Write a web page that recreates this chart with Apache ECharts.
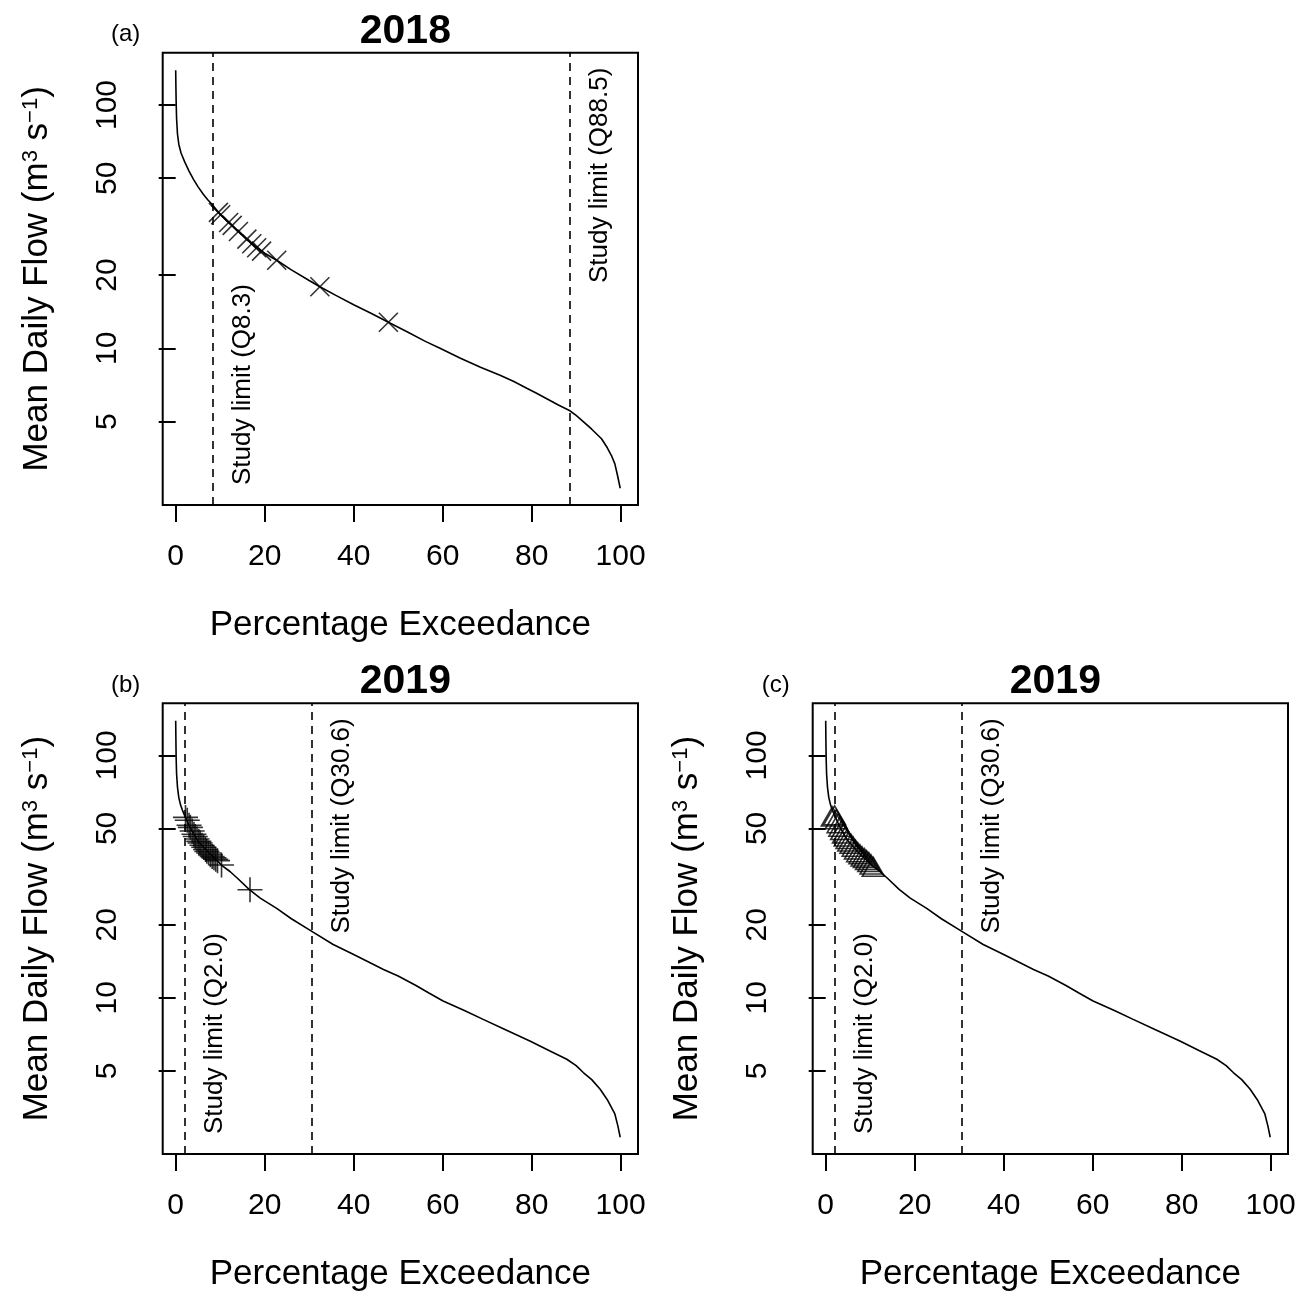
<!DOCTYPE html>
<html>
<head>
<meta charset="utf-8">
<script src="https://cdn.jsdelivr.net/npm/echarts@6/dist/echarts.min.js"></script>
<style>
html, body { margin: 0; padding: 0; background: #fff; }
#main { width: 1309px; height: 1293px; }
</style>
</head>
<body>
<div id="main"></div>
<script>
// flow duration curves: [percentage exceedance, mean daily flow (m3/s)]
var fdc2018 = [
    [0, 139], [0.05, 118], [0.1, 104], [0.2, 88], [0.4, 76], [0.7, 69], [1.2, 63.5], [2, 58.5],
    [3, 53.5], [4, 49.5], [5, 46.2], [6.2, 43], [7.2, 40.8], [8.3, 38.8], [10, 35.5], [12, 32.8],
    [14, 30.3], [17, 27], [20, 24.6], [22.7, 23], [26, 21], [30, 19], [32.4, 17.9], [36, 16.5],
    [40, 15.1], [44, 13.9], [47.8, 12.8], [52, 11.7], [56, 10.7], [59.4, 10], [64, 9.1], [68.5, 8.35],
    [72.9, 7.75], [76, 7.3], [78.9, 6.85], [81, 6.55], [83.4, 6.2], [86, 5.85], [88.5, 5.55], [90, 5.3],
    [91.6, 5.0], [93.5, 4.65], [95.7, 4.25], [97, 3.9], [98, 3.6], [98.7, 3.35], [99.3, 3.0], [99.9, 2.66]
];
var fdc2019 = [
    [0, 139], [0.05, 115], [0.1, 98], [0.2, 84], [0.4, 74], [0.7, 67], [1.1, 62.4], [1.5, 59.5],
    [2, 56.6], [3, 51.5], [4, 47.6], [5, 44.5], [6.2, 42], [7.5, 39.5], [9.2, 37], [10.5, 35],
    [12.2, 33.2], [14, 31], [16.5, 28], [19, 25.8], [22.7, 23.4], [26, 21.2], [30.6, 18.8], [35.4, 16.6],
    [40, 15.1], [46.7, 13.1], [50, 12.3], [54, 11.25], [57, 10.45], [60.1, 9.7], [65, 8.85], [69.1, 8.15],
    [74, 7.4], [79.6, 6.64], [84, 6.05], [87.9, 5.58], [90, 5.25], [91.6, 4.92], [93.5, 4.6], [95.4, 4.2],
    [97, 3.8], [98.7, 3.32], [99.4, 2.95], [99.9, 2.66]
];

// sampled days
var samples2018 = [
    [9.6, 36.2], [10.1, 35.4], [11.9, 32.9], [12.7, 32.0], [14.1, 30.2], [16.0, 28.1],
    [17.1, 26.9], [18.2, 25.9], [19.3, 25.1], [22.7, 23.0], [32.4, 17.9], [47.8, 12.8]
];
var samples2019b = [
    [2.2, 55.5], [2.6, 54], [3.0, 51.5], [3.3, 50.5], [3.7, 48.8], [4.1, 47.3], [4.4, 46.3],
    [4.8, 45.2], [5.2, 44.2], [5.5, 43.5], [5.9, 42.6], [6.3, 41.8], [6.7, 40.9], [7.0, 40.2],
    [7.4, 39.6], [7.8, 38.9], [8.2, 38.3], [8.6, 37.8], [9.0, 37.3], [9.4, 36.8], [10.3, 35.3], [16.7, 27.9]
];
var samples2019c = [
    [1.5, 56], [2.0, 56.6], [2.4, 54.5], [2.8, 52.5], [3.2, 50.8], [3.6, 49.2], [4.0, 47.6],
    [4.4, 46.3], [4.8, 45.2], [5.2, 44.2], [5.7, 43.2], [6.2, 42], [6.7, 40.9], [7.2, 39.9],
    [7.7, 39.1], [8.2, 38.3], [8.7, 37.7], [9.2, 37], [9.7, 36.3], [10.2, 35.5], [10.7, 34.7]
];

var studyLimits2018 = [8.3, 88.5];
var studyLimits2019 = [2.0, 30.6];
var xTicks = [0, 20, 40, 60, 80, 100];
var yTicks = [5, 10, 20, 50, 100];
var panelTitles = ['2018', '2019', '2019'];
var panelTags = ['(a)', '(b)', '(c)'];

var FONT = 'Liberation Sans, Arial, Helvetica, sans-serif';
var yLogTicks = yTicks.map(function (v) { return Math.log10(v); });

function toLog(points) {
    return points.map(function (p) { return [p[0], Math.log10(p[1])]; });
}

var panels = [
    { left: 162.7, top: 52.7, curve: fdc2018, samples: samples2018, limits: studyLimits2018, symbol: 'path://M0,0L10,10M10,0L0,10', size: 19 },
    { left: 162.7, top: 703.3, curve: fdc2019, samples: samples2019b, limits: studyLimits2019, symbol: 'path://M5,0L5,10M0,5L10,5', size: 25 },
    { left: 812.7, top: 703.3, curve: fdc2019, samples: samples2019c, limits: studyLimits2019, symbol: 'triangle', size: [22, 19] }
];
var plotW = 475.3;
var plotH = 452.3;

var grids = [], xAxes = [], yAxes = [], series = [], titles = [];

function limitLabel(value, position, distance) {
    return {
        show: true, position: position, distance: distance,
        formatter: 'Study limit (Q' + value.toFixed(1) + ')',
        fontSize: 26, color: '#000', fontFamily: FONT
    };
}

panels.forEach(function (p, i) {
    grids.push({
        left: p.left, top: p.top, width: plotW, height: plotH,
        show: true, borderColor: '#000', borderWidth: 2, backgroundColor: '#fff'
    });
    xAxes.push({
        gridIndex: i, type: 'value', min: -2.92, max: 103.9,
        axisLine: { show: false },
        splitLine: { show: false },
        axisTick: { show: true, length: 17, customValues: xTicks, lineStyle: { color: '#000', width: 2 } },
        axisLabel: { customValues: xTicks, margin: 37, fontSize: 30, color: '#000', fontFamily: FONT },
        name: 'Percentage Exceedance', nameLocation: 'middle', nameGap: 103,
        nameTextStyle: { fontSize: 35, color: '#000', fontFamily: FONT }
    });
    yAxes.push({
        gridIndex: i, type: 'value', min: 0.3559, max: 2.215,
        axisLine: { show: false },
        splitLine: { show: false },
        axisTick: { show: true, length: 17, customValues: yLogTicks, lineStyle: { color: '#000', width: 2 } },
        axisLabel: {
            customValues: yLogTicks, rotate: 90, margin: 40, fontSize: 30, color: '#000', fontFamily: FONT,
            formatter: function (v) { return String(Math.round(Math.pow(10, v))); }
        },
        name: 'Mean Daily Flow (m{sup|3} s{sup|\u22121})', nameLocation: 'middle', nameGap: 108,
        nameTextStyle: {
            fontSize: 35, color: '#000', fontFamily: FONT,
            rich: { sup: { fontSize: 22, verticalAlign: 'top', color: '#000', fontFamily: FONT } }
        }
    });

    series.push({
        type: 'line', xAxisIndex: i, yAxisIndex: i,
        data: toLog(p.curve),
        showSymbol: false, silent: true,
        lineStyle: { color: '#000', width: 1.6 },
        markLine: {
            silent: true, symbol: 'none',
            lineStyle: { color: '#000', width: 1.6, type: [8, 6] },
            data: [
                { xAxis: p.limits[0], label: limitLabel(p.limits[0], 'insideStartBottom', [20, 17]) },
                { xAxis: p.limits[1], label: limitLabel(p.limits[1], 'insideEndBottom', [15, 17]) }
            ]
        }
    });
    series.push({
        type: 'scatter', xAxisIndex: i, yAxisIndex: i,
        data: toLog(p.samples),
        symbol: p.symbol, symbolSize: p.size, silent: true,
        itemStyle: { color: 'rgba(0,0,0,0)', borderColor: '#000', borderWidth: 1.6 },
        z: 3
    });

    titles.push({
        text: panelTitles[i], left: p.left + plotW / 2, top: p.top - 47, textAlign: 'center',
        textStyle: { fontSize: 41, fontWeight: 'bold', color: '#000', fontFamily: FONT }
    });
    titles.push({
        text: panelTags[i], left: p.left - 42, top: p.top - 35, textAlign: 'center',
        textStyle: { fontSize: 24, fontWeight: 'normal', color: '#000', fontFamily: FONT }
    });
});

var chart = echarts.init(document.getElementById('main'));
chart.setOption({
    animation: false,
    backgroundColor: '#fff',
    title: titles,
    grid: grids,
    xAxis: xAxes,
    yAxis: yAxes,
    series: series
});
</script>
</body>
</html>
